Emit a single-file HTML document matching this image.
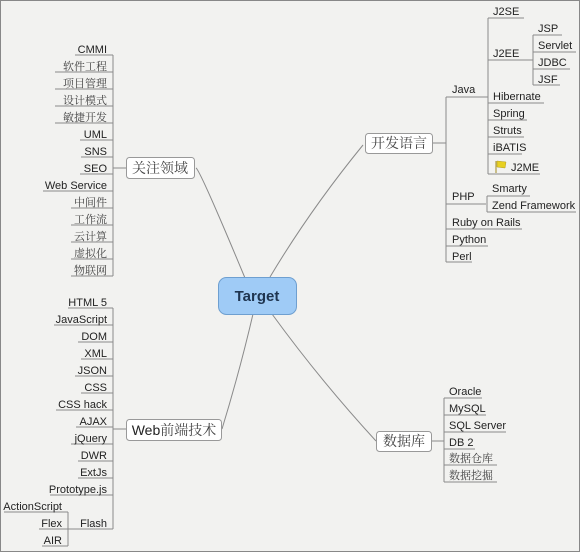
<!DOCTYPE html>
<html><head><meta charset="utf-8"><style>
html,body{margin:0;padding:0;background:#f2f2f0;}
svg{display:block;}
text{font-family:"Liberation Sans","Noto Sans CJK SC",sans-serif;font-size:11px;fill:#222;}
.c{font-family:"Liberation Serif","Noto Serif CJK SC",serif;fill:#444;}
.b{font-size:14px;}
</style></head><body>
<svg width="580" height="552" viewBox="0 0 580 552" xmlns="http://www.w3.org/2000/svg">
<rect x="0.5" y="0.5" width="579" height="551" fill="#f2f2f0" stroke="#888"/>
<g fill="none" stroke="#8a8a8a" stroke-width="1">
<!-- main connectors -->
<path d="M196 168 Q200 170 245 278"/>
<path d="M270 277 Q310 210 363 145"/>
<path d="M253 314 Q240 370 222 429"/>
<path d="M272 314 Q320 380 376 441"/>
<!-- left group 1 -->
<path d="M113 55 V276"/><path d="M113 168 H126"/>
<path d="M75 55H113M55 72H113M55 89H113M55 106H113M55 123H113M80 140H113M81 157H113M80 174H113M43 191H113M71 208H113M71 225H113M71 242H113M71 259H113M71 276H113"/>
<!-- left group 2 -->
<path d="M113 308 V529"/><path d="M113 429 H126"/>
<path d="M68 308H113M54 325H113M78 342H113M81 359H113M75 376H113M81 393H113M56 410H113M76 427H113M71 444H113M78 461H113M78 478H113M50 495H113M79 529H113"/>
<path d="M68 512 V546"/><path d="M68 529 H79"/>
<path d="M4 512H68M39 529H68M42 546H68"/>
<!-- right dev -->
<path d="M432 143 H446"/><path d="M446 97 V262"/>
<path d="M446 97H488M446 204H486M446 229H522M446 246H488M446 262H472"/>
<path d="M488 18 V174"/>
<path d="M488 18H524M488 60H533M488 103H544M488 120H527M488 137H524M488 154H522M488 174H540"/>
<path d="M533 35 V85"/>
<path d="M533 35H562M533 52H576M533 69H570M533 85H560"/>
<path d="M487 196 V212"/><path d="M487 196H530M487 212H576"/>
<!-- database -->
<path d="M431 441 H444"/><path d="M444 398 V482"/>
<path d="M444 398H482M444 415H486M444 432H506M444 449H475M444 465H497M444 482H497"/>
</g>
<!-- boxes -->
<rect x="218.5" y="277.5" width="78" height="37" rx="8" fill="#9fcbf6" stroke="#6e9fd0"/>
<text x="257" y="301" text-anchor="middle" style="font-size:15px;font-weight:bold;fill:#1f3550">Target</text>
<rect x="126.5" y="157.5" width="68" height="21" rx="3" fill="#fff" stroke="#999"/>
<text class="c b" x="160" y="173" text-anchor="middle">关注领域</text>
<rect x="365.5" y="133.5" width="67" height="20" rx="3" fill="#fff" stroke="#999"/>
<text class="c b" x="399" y="148" text-anchor="middle">开发语言</text>
<rect x="126.5" y="419.5" width="95" height="21" rx="3" fill="#fff" stroke="#999"/>
<text class="b" x="174" y="435" text-anchor="middle">Web<tspan class="c">前端技术</tspan></text>
<rect x="376.5" y="431.5" width="55" height="20" rx="3" fill="#fff" stroke="#999"/>
<text class="c b" x="404" y="446" text-anchor="middle">数据库</text>
<!-- left group 1 text -->
<g text-anchor="end">
<text x="107" y="53">CMMI</text>
<text class="c" x="107" y="70">软件工程</text>
<text class="c" x="107" y="87">项目管理</text>
<text class="c" x="107" y="104">设计模式</text>
<text class="c" x="107" y="121">敏捷开发</text>
<text x="107" y="138">UML</text>
<text x="107" y="155">SNS</text>
<text x="107" y="172">SEO</text>
<text x="107" y="189">Web Service</text>
<text class="c" x="107" y="206">中间件</text>
<text class="c" x="107" y="223">工作流</text>
<text class="c" x="107" y="240">云计算</text>
<text class="c" x="107" y="257">虚拟化</text>
<text class="c" x="107" y="274">物联网</text>
<!-- group 2 -->
<text x="107" y="306">HTML 5</text>
<text x="107" y="323">JavaScript</text>
<text x="107" y="340">DOM</text>
<text x="107" y="357">XML</text>
<text x="107" y="374">JSON</text>
<text x="107" y="391">CSS</text>
<text x="107" y="408">CSS hack</text>
<text x="107" y="425">AJAX</text>
<text x="107" y="442">jQuery</text>
<text x="107" y="459">DWR</text>
<text x="107" y="476">ExtJs</text>
<text x="107" y="493">Prototype.js</text>
<text x="107" y="527">Flash</text>
<text x="62" y="510">ActionScript</text>
<text x="62" y="527">Flex</text>
<text x="62" y="544">AIR</text>
</g>
<!-- right dev text -->
<text x="452" y="93">Java</text>
<text x="452" y="200">PHP</text>
<text x="452" y="226">Ruby on Rails</text>
<text x="452" y="243">Python</text>
<text x="452" y="260">Perl</text>
<text x="493" y="15">J2SE</text>
<text x="493" y="57">J2EE</text>
<text x="493" y="100">Hibernate</text>
<text x="493" y="117">Spring</text>
<text x="493" y="134">Struts</text>
<text x="493" y="151">iBATIS</text>
<path d="M496 161 V173" stroke="#a08a20" fill="none"/>
<path d="M497 161 L506 162 L505 168 L497 167 Z" fill="#e8d020" stroke="#b09a20" stroke-width="0.5"/>
<text x="511" y="171">J2ME</text>
<text x="538" y="32">JSP</text>
<text x="538" y="49">Servlet</text>
<text x="538" y="66">JDBC</text>
<text x="538" y="83">JSF</text>
<text x="492" y="192">Smarty</text>
<text x="492" y="209">Zend Framework</text>
<!-- db text -->
<text x="449" y="395">Oracle</text>
<text x="449" y="412">MySQL</text>
<text x="449" y="429">SQL Server</text>
<text x="449" y="446">DB 2</text>
<text class="c" x="449" y="462">数据仓库</text>
<text class="c" x="449" y="479">数据挖掘</text>
</svg>
</body></html>
